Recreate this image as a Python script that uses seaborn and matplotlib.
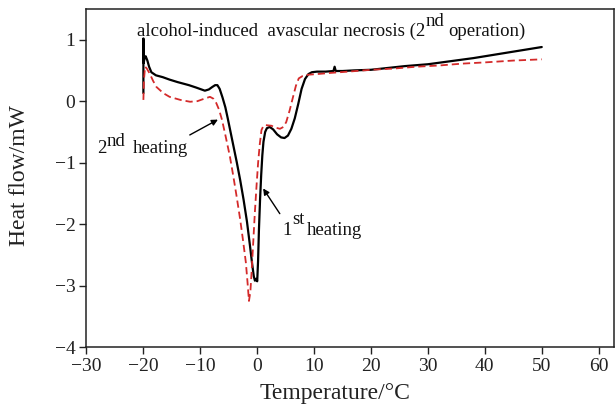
import numpy as np
import pandas as pd
import seaborn as sns
import matplotlib.pyplot as plt

# 1st heating (black solid)
first_x = [-20.0, -20.0, -19.95, -19.8, -19.6, -19.3, -19.0, -18.6, -17.8, -16.6, -15.4, -14.0,
           -12.0, -10.7, -9.8, -9.2, -8.5, -7.9, -7.4, -7.0, -6.6, -6.1, -5.6, -5.2, -4.8,
           -4.2, -3.6, -3.0, -2.4, -1.8, -1.3, -0.9, -0.6, -0.4, -0.2, 0.0, 0.15, 0.3, 0.5,
           0.7, 0.9, 1.1, 1.4, 1.7, 2.2, 2.8, 3.5, 4.2, 4.8, 5.4, 6.0, 6.6, 7.2, 7.8, 8.4,
           9.0, 9.6, 10.5, 12.0, 13.4, 13.6, 13.8, 15.0, 17.0, 20.0, 23.0, 26.0, 30.0, 34.0,
           38.0, 42.0, 46.0, 50.0]
first_y = [0.13, 1.02, 0.62, 0.70, 0.73, 0.66, 0.56, 0.47, 0.42, 0.39, 0.35, 0.31,
           0.26, 0.22, 0.19, 0.17, 0.19, 0.23, 0.26, 0.26, 0.20, 0.06, -0.10, -0.27, -0.45,
           -0.72, -0.99, -1.28, -1.60, -1.96, -2.33, -2.64, -2.85, -2.92, -2.89, -2.93, -2.60,
           -2.10, -1.60, -1.20, -0.88, -0.66, -0.50, -0.44, -0.42, -0.46, -0.54, -0.59, -0.60,
           -0.56, -0.45, -0.28, -0.05, 0.20, 0.36, 0.44, 0.47, 0.48, 0.48, 0.49, 0.56, 0.49,
           0.49, 0.50, 0.51, 0.54, 0.57, 0.60, 0.65, 0.70, 0.76, 0.82, 0.88]

# 2nd heating (red dashed)
second_x = [-20.0, -19.9, -19.7, -19.4, -18.9, -18.3, -17.7, -16.5, -15.4, -13.5, -11.8, -10.5,
            -9.3, -8.3, -7.7, -7.2, -6.7, -6.2, -5.6, -4.8, -4.2, -3.6, -3.0, -2.5, -2.0,
            -1.7, -1.45, -1.2, -1.0, -0.7, -0.42, -0.1, 0.16, 0.45, 0.75, 1.1, 1.5, 2.5, 3.2,
            4.0, 4.6, 5.1, 5.7, 6.3, 6.8, 7.3, 8.0, 9.0, 10.5, 13.0, 16.0, 20.0, 24.0, 28.0,
            32.0, 36.0, 40.0, 45.0, 50.0]
second_y = [0.02, 0.35, 0.56, 0.53, 0.45, 0.33, 0.23, 0.13, 0.07, 0.02, -0.01, 0.00,
            0.04, 0.07, 0.04, -0.03, -0.14, -0.30, -0.55, -0.90, -1.22, -1.56, -1.92, -2.26,
            -2.62, -2.95, -3.25, -3.10, -2.80, -2.30, -1.82, -1.35, -1.00, -0.70, -0.47, -0.40,
            -0.39, -0.40, -0.43, -0.45, -0.42, -0.34, -0.15, 0.07, 0.25, 0.37, 0.41, 0.43, 0.44,
            0.46, 0.48, 0.51, 0.53, 0.56, 0.58, 0.61, 0.63, 0.66, 0.68]

x_ticks = [-30, -20, -10, 0, 10, 20, 30, 40, 50, 60]
y_ticks = [-4, -3, -2, -1, 0, 1]

sns.set_theme(style='ticks')
plt.rcParams['font.family'] = ['Liberation Serif', 'DejaVu Serif']

fig = plt.figure(figsize=(6.16, 4.05), dpi=100)
ax = fig.add_axes([0.1404, 0.143, 0.8564, 0.835])

sns.lineplot(x=first_x, y=first_y, estimator=None, sort=False, color='black',
             linewidth=1.6, ax=ax)
sns.lineplot(x=second_x, y=second_y, estimator=None, sort=False, color='#d42a2a',
             linewidth=1.3, linestyle=(0, (4, 2.2)), ax=ax)

ax.set_xlim(-30, 62.7)
ax.set_ylim(-4, 1.5)
ax.set_xticks(x_ticks)
ax.set_yticks(y_ticks)
ax.tick_params(direction='out', length=5, width=1, labelsize=14, colors='#222222', pad=3)
for s in ax.spines.values():
    s.set_linewidth(1.1)
    s.set_color('#222222')
    s.set_visible(True)

ax.set_xlabel('Temperature/°C', fontsize=17, color='#222222')
ax.set_ylabel('Heat flow/mW', fontsize=17, color='#222222')
ax.xaxis.set_label_coords(0.471, -0.105)
ax.yaxis.set_label_coords(-0.107, 0.506)

FS = 13.5
TC = '#111111'


def chain(x, y, pieces):
    """pieces: list of (text, dx_pt, raise_pt) drawn one after another."""
    prev = ax.text(x, y, pieces[0][0], fontsize=FS, va='baseline', ha='left', color=TC)
    cur_raise = 0
    for txt, dx, rz in pieces[1:]:
        prev = ax.annotate(txt, xy=(1, 0), xycoords=prev, xytext=(dx, rz - cur_raise),
                           textcoords='offset points', va='bottom', ha='left',
                           fontsize=FS, color=TC)
        cur_raise = rz


chain(-21.2, 1.06, [('alcohol-induced  avascular necrosis (2', 0, 0),
                    ('nd', 0.2, 7), ('operation)', 3.5, 0)])
chain(-28.2, -0.85, [('2', 0, 0), ('nd', 0.2, 5), ('heating', 5.5, 0)])
chain(4.4, -2.18, [('1', 0, 0), ('st', 0.2, 8), ('heating', 1.5, 0)])

arrow = dict(arrowstyle='-|>', color='black', lw=1.0, mutation_scale=9, shrinkA=0, shrinkB=0)
ax.annotate('', xy=(-6.9, -0.30), xytext=(-11.85, -0.55), arrowprops=arrow)
ax.annotate('', xy=(1.04, -1.42), xytext=(3.97, -1.83), arrowprops=arrow)

fig.savefig('out.png', dpi=100)
